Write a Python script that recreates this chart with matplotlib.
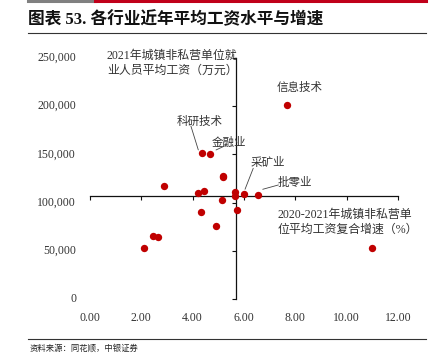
import matplotlib
matplotlib.use("Agg")
import matplotlib.pyplot as plt
from matplotlib.lines import Line2D

plt.rcParams['font.family'] = ['Liberation Serif', 'Noto Sans CJK SC', 'DejaVu Sans']

# growth (%) and average wage (yuan)
growth = [7.66, 4.35, 4.69, 5.17, 5.19, 2.87, 4.20, 4.45, 5.65, 5.66,
          5.99, 6.53, 5.13, 4.34, 5.74, 4.90, 2.44, 2.66, 2.09, 11.0]
wage = [201506, 151776, 150843, 126200, 127600, 117200, 110000, 111700, 111300, 106800,
        108600, 107900, 102400, 90600, 92300, 75700, 65400, 64600, 53200, 53200]

labels = ['信息技术', '科研技术', '金融业', '采矿业', '批零业']
x_ticks = [0, 2, 4, 6, 8, 10, 12]
x_ticklabels = ['0.00', '2.00', '4.00', '6.00', '8.00', '10.00', '12.00']
y_ticks = [0, 50000, 100000, 150000, 200000, 250000]
y_ticklabels = ['0', '50,000', '100,000', '150,000', '200,000', '250,000']
x_cross = 5.68
y_cross = 106837

RED = '#C00000'
TXT = '#333333'

fig = plt.figure(figsize=(4.4, 3.57), dpi=100)
W, H = 440, 357

# top bar
fig.add_artist(Line2D([28/W, 95/W], [1 - 1.2/H, 1 - 1.2/H], color='#808080', lw=2.2))
fig.add_artist(Line2D([95/W, 426/W], [1 - 1.2/H, 1 - 1.2/H], color='#C0001A', lw=2.2))
fig.text(28/W, 1 - 20/H, '图表 53. 各行业近年平均工资水平与增速', fontsize=12, fontweight='bold',
         va='center', ha='left', color='#111111')
fig.add_artist(Line2D([28/W, 426/W], [1 - 33/H, 1 - 33/H], color='#333333', lw=0.8))
fig.add_artist(Line2D([28/W, 426/W], [1 - 338.5/H, 1 - 338.5/H], color='#333333', lw=0.8))
fig.text(30/W, 1 - 348/H, '资料来源：同花顺，中银证券', fontsize=6, style='italic',
         va='center', ha='left', color='#222222')

ax = fig.add_axes([90/W, 1 - 299/H, 308/W, 241/H])
ax.set_xlim(0, 12)
ax.set_ylim(0, 250000)
for s in ['top', 'right']:
    ax.spines[s].set_visible(False)
ax.spines['left'].set_position(('data', x_cross))
ax.spines['bottom'].set_position(('data', y_cross))
for s in ['left', 'bottom']:
    ax.spines[s].set_linewidth(0.9)
    ax.spines[s].set_color('#111111')
ax.set_xticks(x_ticks)
ax.set_yticks(y_ticks)
ax.tick_params(axis='both', direction='out', length=3, width=0.8, color='#111111',
               labelleft=False, labelbottom=False)

ytr = ax.get_yaxis_transform()
for v, t in zip(y_ticks, y_ticklabels):
    ax.text(-0.045, v, t, transform=ytr, ha='right', va='center', fontsize=8.5, color=TXT)
xtr = ax.get_xaxis_transform()
for v, t in zip(x_ticks, x_ticklabels):
    ax.text(v, -0.079, t, transform=xtr, ha='center', va='center', fontsize=8.5, color=TXT)

ax.scatter(growth, wage, s=28, color=RED, zorder=3, linewidths=0)

# annotations
ann_pos = {'信息技术': (8.18, 219600), '科研技术': (4.29, 183900), '金融业': (5.43, 162600),
           '采矿业': (6.91, 141800), '批零业': (7.99, 121100)}
for lab in labels:
    ax.text(*ann_pos[lab], lab, ha='center', va='center', fontsize=8.3, color=TXT,
            family=['Noto Sans CJK SC'])
leaders = [((3.93, 179500), (4.22, 154600)), ((4.91, 154600), (5.33, 159800)),
           ((6.36, 135600), (6.04, 113800)), ((6.73, 113800), (7.34, 118300))]
for a, b in leaders:
    ax.annotate('', xy=b, xytext=a, arrowprops=dict(arrowstyle='-', lw=0.6, color='#444444',
                                                     shrinkA=0, shrinkB=0))

ax.text(0.055, 1.035, '2021年城镇非私营单位就\n业人员平均工资（万元）', transform=ax.transAxes,
        ha='left', va='top', fontsize=8.6, color=TXT, linespacing=1.4)
ax.text(0.61, 0.375, '2020-2021年城镇非私营单\n位平均工资复合增速（%）', transform=ax.transAxes,
        ha='left', va='top', fontsize=8.6, color=TXT, linespacing=1.4)

fig.savefig('out.png', dpi=100)
